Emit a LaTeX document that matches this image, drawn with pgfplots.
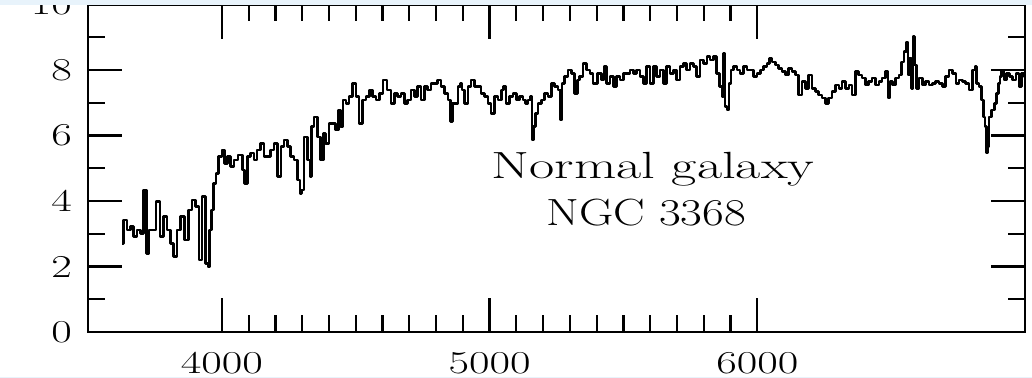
\documentclass[border=0pt]{standalone}
\usepackage{graphicx}
\usepackage{pgfplots}
\pgfplotsset{compat=1.18}
\definecolor{band}{HTML}{E8F3FB}
\pgfplotstableread{
lam f
3627 2.71
3639 3.42
3652 3.11
3664 3.22
3677 2.91
3689 3.11
3702 3.01
3714 4.34
3724 2.40
3733 3.11
3745 3.11
3764 3.98
3774 2.91
3789 3.52
3801 3.11
3814 2.71
3826 2.30
3839 3.11
3851 3.52
3870 2.81
3883 3.73
3895 4.03
3908 3.83
3920 2.20
3933 4.13
3945 2.10
3951 1.99
3957 3.11
3964 3.73
3974 4.54
3982 4.84
3995 5.35
4007 5.56
4014 5.15
4026 5.35
4039 5.05
4051 5.25
4070 5.40
4082 4.95
4089 4.54
4101 5.35
4113 5.46
4126 5.25
4138 5.56
4151 5.76
4164 5.35
4176 5.35
4189 5.56
4201 5.76
4216 4.74
4226 5.66
4238 5.86
4251 5.66
4263 5.35
4276 5.25
4288 4.64
4295 4.23
4301 4.33
4313 5.96
4326 5.25
4332 4.74
4338 6.27
4351 6.57
4363 5.96
4376 5.25
4382 6.07
4394 5.76
4407 6.37
4419 6.37
4432 6.17
4438 6.78
4448 6.27
4457 7.08
4469 6.98
4482 7.19
4494 7.59
4507 7.19
4519 6.37
4532 7.08
4544 7.19
4557 7.39
4569 7.19
4582 7.08
4594 7.29
4610 7.69
4625 7.39
4638 6.98
4650 7.29
4663 7.19
4675 7.29
4688 6.98
4700 7.08
4713 7.39
4725 7.19
4738 7.49
4750 7.08
4763 7.49
4775 7.39
4788 7.59
4800 7.59
4813 7.69
4825 7.49
4838 7.29
4850 7.08
4856 6.42
4865 6.98
4875 6.98
4888 7.49
4894 7.59
4900 7.39
4913 6.98
4925 7.49
4937 7.69
4950 7.49
4962 7.49
4975 7.29
4987 7.19
5000 6.98
5012 6.68
5025 7.19
5037 7.08
5050 7.39
5056 7.49
5068 6.98
5081 7.19
5093 7.29
5106 7.08
5118 7.19
5131 7.08
5137 6.98
5150 7.08
5156 7.19
5162 5.86
5168 6.27
5175 6.68
5187 6.98
5200 7.08
5212 7.29
5225 7.19
5237 7.59
5249 7.49
5262 7.39
5268 6.47
5274 7.59
5287 7.80
5299 8.00
5312 7.90
5324 7.29
5331 7.69
5343 7.80
5356 8.20
5368 8.00
5381 7.90
5393 7.59
5412 7.90
5424 7.69
5431 8.10
5443 7.59
5456 7.80
5468 7.49
5481 7.80
5493 7.69
5506 7.90
5518 7.90
5531 8.00
5543 7.90
5555 8.00
5568 7.80
5580 7.59
5593 8.10
5605 7.59
5618 8.10
5630 7.80
5643 8.00
5655 7.59
5668 8.10
5680 7.90
5693 8.00
5705 7.69
5718 8.10
5730 8.20
5743 8.00
5755 8.20
5768 8.10
5780 7.80
5793 8.31
5805 8.20
5818 8.41
5830 8.31
5842 8.41
5855 7.90
5864 7.49
5871 7.19
5876 8.51
5884 6.88
5890 6.78
5899 7.59
5905 8.00
5917 8.10
5930 8.00
5942 7.90
5955 8.10
5967 8.00
5980 8.00
5992 7.80
6005 7.90
6017 8.00
6030 8.10
6042 8.20
6049 8.36
6061 8.25
6073 8.15
6086 8.05
6098 7.95
6111 7.85
6123 8.05
6136 7.95
6148 7.85
6161 7.24
6173 7.64
6186 7.44
6198 7.85
6211 7.44
6223 7.34
6236 7.24
6248 7.14
6261 6.98
6273 7.14
6286 7.34
6298 7.54
6311 7.44
6323 7.64
6336 7.44
6348 7.54
6360 7.24
6373 7.95
6385 7.85
6398 7.75
6410 7.54
6423 7.64
6435 7.75
6448 7.54
6460 7.64
6473 7.75
6485 7.95
6492 7.14
6498 7.64
6510 7.54
6523 7.75
6535 7.85
6541 8.25
6554 8.56
6560 8.86
6566 7.85
6573 8.36
6579 7.44
6585 9.02
6591 8.15
6598 7.44
6610 7.75
6623 7.54
6635 7.64
6647 7.54
6660 7.59
6673 7.64
6685 7.59
6698 7.49
6710 7.80
6723 8.00
6735 7.90
6748 7.59
6760 7.69
6772 7.64
6785 7.59
6797 7.39
6810 8.00
6816 8.10
6822 7.59
6835 7.49
6841 7.08
6847 6.57
6854 6.27
6857 5.46
6862 5.66
6870 6.57
6879 6.78
6891 6.98
6897 7.29
6903 7.59
6910 7.80
6916 8.00
6928 7.69
6935 7.90
6947 7.80
6960 7.69
6972 7.90
6982 7.49
6991 7.90
7000 7.80
}\spectrum
\newcommand{\wideit}[1]{\scalebox{1.4}[1]{#1}}
\begin{document}
\begin{tikzpicture}
\useasboundingbox (0,0) rectangle (1032bp,378bp);
\begin{axis}[
  at={(88bp,46bp)}, anchor=south west,
  scale only axis, width=937bp, height=327.5bp,
  xmin=3500, xmax=7000, ymin=0, ymax=10,
  xtick={4000,5000,6000},
  xticklabels={\wideit{4000},\wideit{5000},\wideit{6000}},
  minor x tick num=9,
  ytick={0,2,4,6,8,10},
  yticklabels={\wideit{0},\wideit{2},\wideit{4},\wideit{6},\wideit{8},\wideit{10}},
  minor y tick num=1,
  tick pos=both,
  tick align=inside,
  major tick length=34bp, minor tick length=17bp,
  axis line style={line width=2.2bp},
  every tick/.style={line width=2.2bp, black},
  tick label style={font=\fontsize{32}{34}\selectfont, inner sep=0pt},
  xticklabel style={anchor=north, yshift=-20bp},
  yticklabel style={anchor=east, xshift=-16bp},
]
\addplot[black, line width=2.6bp, line join=round, const plot mark mid] table[x=lam, y=f] {\spectrum};
\node[anchor=base, font=\fontsize{38}{40}\selectfont] at (axis cs:5610,4.70) {\scalebox{1.45}[1]{Normal galaxy}};
\node[anchor=base, font=\fontsize{38}{40}\selectfont] at (axis cs:5585,3.24) {\scalebox{1.25}[1]{NGC 3368}};
\end{axis}
\fill[band] (0,372.6bp) rectangle (1032bp,378bp);
\fill[band] (0,0) rectangle (1032bp,1.5bp);
\end{tikzpicture}
\end{document}
